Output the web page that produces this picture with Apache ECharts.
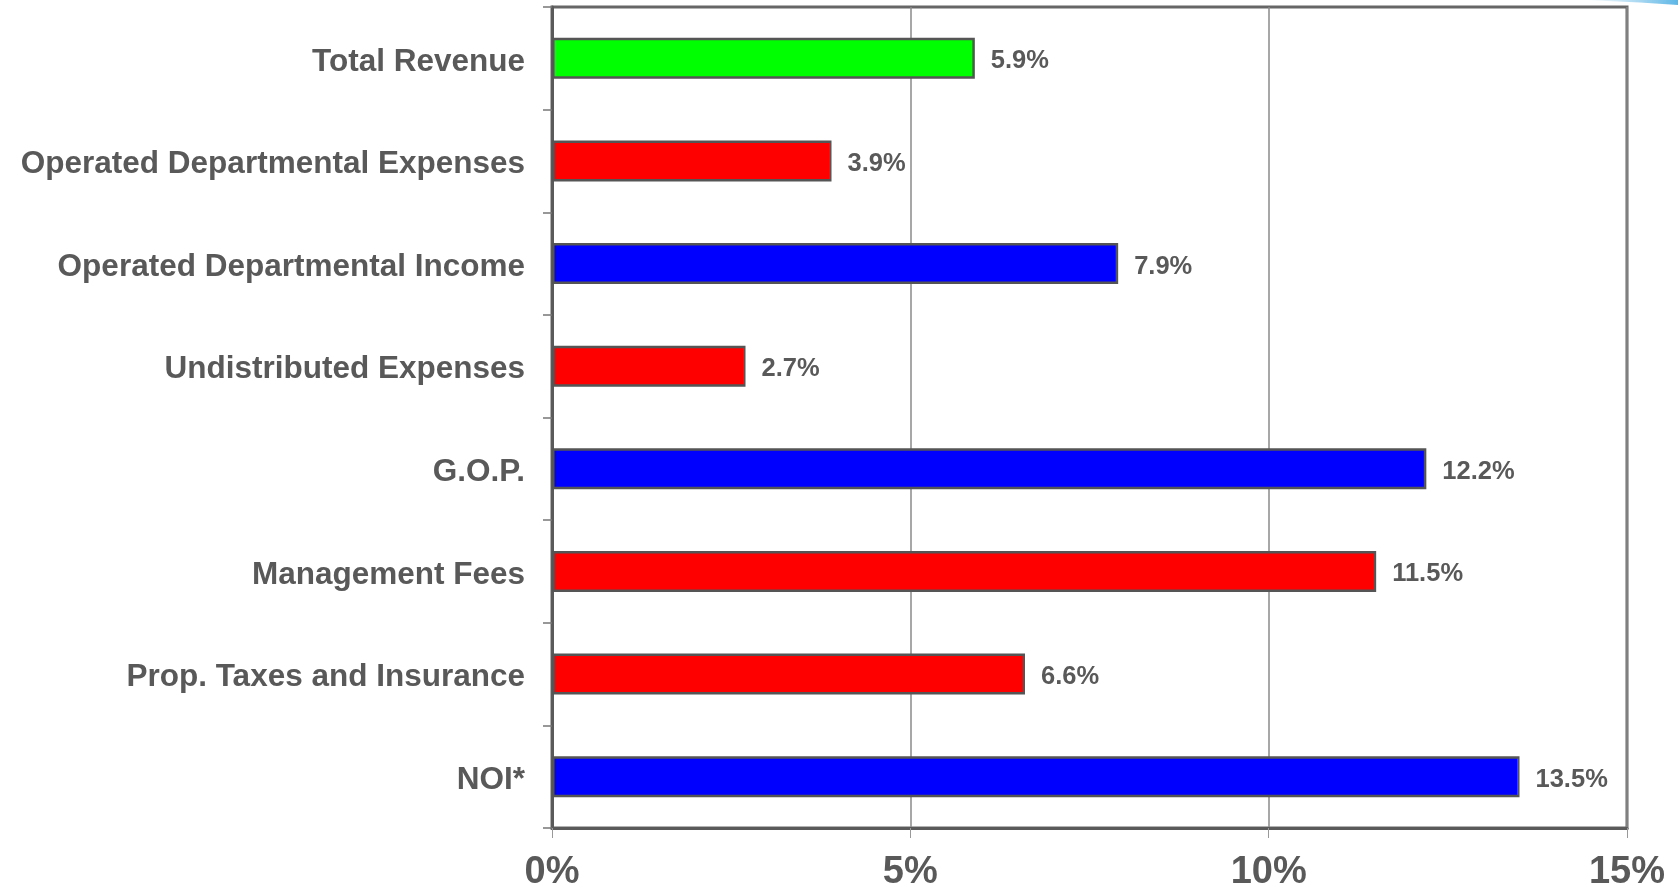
<!DOCTYPE html>
<html>
<head>
<meta charset="utf-8">
<script src="https://cdn.jsdelivr.net/npm/echarts@6/dist/echarts.min.js"></script>
<style>
  html, body { margin: 0; padding: 0; background: #ffffff; }
  #chart { width: 1678px; height: 890px; }
</style>
</head>
<body>
<div id="chart"></div>
<script>
// Year-over-year change by line item
const categories = [
  'Total Revenue',
  'Operated Departmental Expenses',
  'Operated Departmental Income',
  'Undistributed Expenses',
  'G.O.P.',
  'Management Fees',
  'Prop. Taxes and Insurance',
  'NOI*'
];
const changePct = [5.9, 3.9, 7.9, 2.7, 12.2, 11.5, 6.6, 13.5];
const itemKind = ['revenue', 'expense', 'income', 'expense', 'income', 'expense', 'expense', 'income'];
const xTicks = [0, 5, 10, 15];

const kindColor = { revenue: '#00ff00', expense: '#ff0000', income: '#0000ff' };
const FONT = '"Liberation Sans", Arial, sans-serif';
const TEXT = '#595959';

const chart = echarts.init(document.getElementById('chart'));
chart.setOption({
  animation: false,
  backgroundColor: '#ffffff',
  grid: {
    left: 552, right: 51, top: 7, bottom: 62,
    outerBoundsMode: 'none', containLabel: false,
    show: true, borderColor: '#666666', borderWidth: 3, backgroundColor: 'transparent'
  },
  xAxis: {
    type: 'value',
    min: xTicks[0], max: xTicks[xTicks.length - 1], interval: 5,
    axisLine: { show: true, lineStyle: { color: '#5a5a5a', width: 3 } },
    axisTick: { show: true, length: 10, lineStyle: { color: '#999999', width: 1 } },
    splitLine: { show: true, lineStyle: { color: '#8a8a8a', width: 1.5 } },
    axisLabel: {
      formatter: '{value}%', color: TEXT, fontFamily: FONT, fontWeight: 'bold',
      fontSize: 38, margin: 26
    }
  },
  yAxis: {
    type: 'category',
    data: categories,
    inverse: true,
    axisLine: { show: true, lineStyle: { color: '#5a5a5a', width: 3 } },
    axisTick: { show: true, length: 9, lineStyle: { color: '#777777', width: 1.5 } },
    axisLabel: {
      margin: 27,
      formatter: v => '{c|' + v + '}',
      rich: {
        c: {
          color: TEXT, fontFamily: FONT, fontWeight: 'bold', fontSize: 31.5,
          padding: [7, 0, 0, 0]
        }
      }
    }
  },
  series: [{
    type: 'bar',
    barWidth: 41,
    data: changePct.map((v, i) => ({
      value: v,
      itemStyle: { color: kindColor[itemKind[i]] }
    })),
    itemStyle: { borderColor: '#555555', borderWidth: 2.5 },
    label: {
      show: true, position: 'right', distance: 16, offset: [0, 3],
      formatter: p => p.value.toFixed(1) + '%',
      color: TEXT, fontFamily: FONT, fontWeight: 'bold', fontSize: 25.5
    }
  }],
  graphic: [{
    type: 'polygon',
    shape: { points: [[1585, 0], [1678, 0], [1678, 5], [1640, 2.5]] },
    style: {
      fill: {
        type: 'linear', x: 0, y: 0, x2: 1, y2: 0,
        colorStops: [
          { offset: 0, color: 'rgba(120,195,235,0)' },
          { offset: 1, color: '#5cb6e6' }
        ]
      }
    },
    silent: true
  }]
});
</script>
</body>
</html>
